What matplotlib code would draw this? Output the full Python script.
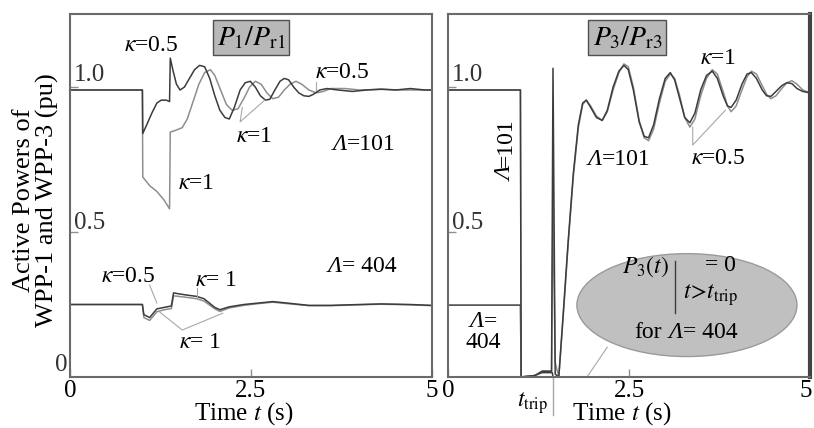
import matplotlib
matplotlib.use('Agg')
import matplotlib.pyplot as plt
from matplotlib.patches import Ellipse
from matplotlib.transforms import ScaledTranslation

plt.rcParams['font.family'] = ['Liberation Serif', 'DejaVu Serif']
plt.rcParams['mathtext.fontset'] = 'stix'

# WPP-1, Lambda = 101
t1_k05 = [0, 1.0, 1.005, 1.06, 1.13, 1.2, 1.26, 1.33, 1.375, 1.385, 1.42, 1.47, 1.52, 1.58, 1.65,
          1.72, 1.79, 1.86, 1.93, 2.0, 2.07, 2.14, 2.2, 2.27, 2.35, 2.42, 2.49, 2.56, 2.63, 2.7,
          2.76, 2.83, 2.9, 2.96, 3.02, 3.09, 3.16, 3.23, 3.3, 3.36, 3.45, 3.55, 3.7, 3.9, 4.1,
          4.3, 4.5, 4.7, 4.9, 5.0]
p1_k05 = [0.99, 0.99, 0.84, 0.87, 0.91, 0.945, 0.955, 0.955, 0.95, 1.10, 1.06, 1.01, 0.99, 1.0, 1.03,
          1.06, 1.075, 1.07, 1.03, 0.97, 0.92, 0.895, 0.89, 0.93, 0.99, 1.015, 1.02, 1.0, 0.97, 0.955,
          0.958, 0.99, 1.02, 1.03, 1.025, 1.0, 0.98, 0.97, 0.968, 0.975, 0.99, 0.995, 0.99, 0.985, 0.99,
          0.993, 0.99, 0.995, 0.99, 0.99]
t1_k1 = [0, 1.0, 1.005, 1.1, 1.2, 1.3, 1.375, 1.385, 1.45, 1.55, 1.62, 1.7, 1.78, 1.86, 1.94, 2.0,
         2.08, 2.16, 2.24, 2.32, 2.4, 2.48, 2.56, 2.64, 2.72, 2.8, 2.88, 2.96, 3.04, 3.12, 3.2,
         3.3, 3.4, 3.5, 3.6, 3.8, 4.0, 4.3, 4.6, 5.0]
p1_k1 = [0.99, 0.99, 0.69, 0.66, 0.64, 0.61, 0.58, 0.845, 0.85, 0.86, 0.89, 0.95, 1.01, 1.05, 1.06, 1.04,
         0.99, 0.94, 0.92, 0.925, 0.96, 1.0, 1.02, 1.01, 0.98, 0.96, 0.965, 0.99, 1.01, 1.02, 1.01,
         0.99, 0.98, 0.985, 0.995, 0.995, 0.99, 0.992, 0.99, 0.99]

# WPP-1, Lambda = 404
t1_404 = [0, 1.0, 1.02, 1.1, 1.2, 1.3, 1.4, 1.43, 1.5, 1.6, 1.75, 1.85, 2.0, 2.07, 2.2, 2.4, 2.6,
          2.8, 3.0, 3.3, 3.6, 4.0, 4.3, 4.7, 5.0]
p1_404_k05 = [0.25, 0.25, 0.215, 0.205, 0.235, 0.24, 0.245, 0.29, 0.287, 0.283, 0.278, 0.27, 0.24, 0.232,
              0.242, 0.25, 0.255, 0.26, 0.255, 0.247, 0.247, 0.25, 0.252, 0.25, 0.247]
p1_404_k1 = [0.25, 0.25, 0.205, 0.195, 0.225, 0.232, 0.236, 0.28, 0.278, 0.275, 0.27, 0.262, 0.235, 0.226,
             0.238, 0.247, 0.253, 0.258, 0.253, 0.246, 0.246, 0.249, 0.251, 0.249, 0.246]

# WPP-3, Lambda = 101
t3 = [0, 1.0, 1.01, 1.2, 1.3, 1.43, 1.45, 1.48, 1.53, 1.6, 1.66, 1.73, 1.8, 1.86, 1.91, 1.97, 2.05,
      2.13, 2.2, 2.28, 2.36, 2.43, 2.49, 2.56, 2.64, 2.71, 2.77, 2.84, 2.92, 3.0, 3.07, 3.13, 3.2,
      3.27, 3.34, 3.41, 3.49, 3.57, 3.65, 3.72, 3.8, 3.86, 3.91, 3.98, 4.06, 4.13, 4.19, 4.26, 4.34,
      4.4, 4.46, 4.53, 4.61, 4.68, 4.75, 4.82, 4.9, 5.0]
p3_k1 = [0.99, 0.99, 0.0, 0.005, 0.02, 0.02, 1.065, 0.01, 0.0, 0.25, 0.47, 0.7, 0.87, 0.945, 0.955, 0.93, 0.895,
         0.885, 0.92, 1.0, 1.055, 1.075, 1.06, 0.99, 0.88, 0.83, 0.825, 0.87, 0.96, 1.03, 1.05, 1.025, 0.96,
         0.895, 0.877, 0.91, 0.99, 1.04, 1.055, 1.03, 0.97, 0.935, 0.93, 0.955, 1.01, 1.045, 1.05, 1.03, 0.99,
         0.97, 0.968, 0.985, 1.005, 1.015, 1.012, 0.995, 0.985, 0.98]
p3_k05 = [0.99, 0.99, 0.0, 0.005, 0.02, 0.02, 0.6, 0.05, 0.0, 0.24, 0.46, 0.69, 0.86, 0.94, 0.955, 0.935, 0.9,
          0.885, 0.915, 0.99, 1.05, 1.08, 1.07, 1.0, 0.885, 0.825, 0.815, 0.855, 0.945, 1.02, 1.045, 1.03, 0.97,
          0.895, 0.862, 0.89, 0.97, 1.03, 1.06, 1.045, 0.985, 0.935, 0.915, 0.935, 0.99, 1.035, 1.055, 1.045, 1.005,
          0.975, 0.96, 0.97, 0.995, 1.015, 1.022, 1.01, 0.99, 0.98]

# WPP-3, Lambda = 404 (tripped)
t3_404 = [0, 1.0, 1.01, 1.2, 1.3, 1.44, 1.45, 5.0]
p3_404 = [0.248, 0.248, 0.0, 0.005, 0.015, 0.015, 0.0, 0.0]

x_ticks = [0, 2.5, 5]
x_tick_labels = ['0', '2.5', '5']
t_trip = 1.45

dark = '#3c3c3c'
light = '#8e8e8e'
lead = '#a8a8a8'
spine = '#6a6a6a'
fs = 17
tfs = 18


def lam(ax, x, y, rest, rot=0):
    # italic capital lambda followed by upright text, split at x
    ax.text(x, y, 'Λ', fontsize=fs, style='italic', ha='right', va='baseline',
            rotation=rot, rotation_mode='anchor')
    ax.text(x, y, rest, fontsize=fs, ha='left', va='baseline', rotation=rot, rotation_mode='anchor')


def kap(ax, x, y, rest):
    ax.text(x, y, r'$\kappa$' + rest, fontsize=fs, ha='center', va='center')


fig = plt.figure(figsize=(8.14, 4.28), dpi=100)
ax1 = fig.add_axes([0.086, 0.1192, 0.4447, 0.848])
ax2 = fig.add_axes([0.5504, 0.1192, 0.4447, 0.848])

for ax in (ax1, ax2):
    ax.set_xlim(0, 5)
    ax.set_ylim(0, 1.252)
    ax.set_xticks(x_ticks)
    ax.set_xticklabels(x_tick_labels)
    ax.set_yticks([0.5, 1.0])
    ax.set_yticklabels([])
    ax.tick_params(direction='in', length=6, width=1, color='#909090', labelsize=tfs, pad=2)
    for s in ax.spines.values():
        s.set_color(spine)
        s.set_linewidth(1.5)
    ax.text(0.05, 1.02, '1.0', fontsize=tfs, ha='left', va='baseline', color='#333333')
    ax.text(0.05, 0.51, '0.5', fontsize=tfs, ha='left', va='baseline', color='#333333')
    ax.text(2.4, -0.125, r'Time $t$ (s)', fontsize=tfs, ha='center', va='center')
ax2.spines['right'].set_color('#444444')
ax2.spines['right'].set_linewidth(3)
ax1.text(-0.04, 0.02, '0', fontsize=tfs, ha='right', va='baseline', color='#333333')
# keep the last "5" just inside the figure
last = ax2.get_xticklabels()[-1]
last.set_transform(last.get_transform() + ScaledTranslation(-4 / 100, 0, fig.dpi_scale_trans))

# left panel
ax1.plot(t1_k1, p1_k1, color=light, lw=1.1)
ax1.plot(t1_k05, p1_k05, color=dark, lw=1.1)
ax1.plot(t1_404, p1_404_k1, color=light, lw=1.1)
ax1.plot(t1_404, p1_404_k05, color=dark, lw=1.1)

ax1.text(0.5, 0.935, r'$P_1/P_{\mathrm{r}1}$', transform=ax1.transAxes, fontsize=20, ha='center', va='center',
         bbox=dict(boxstyle='square,pad=0.15', fc='#b8b8b8', ec='#505050', lw=1))
kap(ax1, 1.12, 1.145, '=0.5')
kap(ax1, 1.74, 0.669, '=1')
kap(ax1, 2.54, 0.828, '=1')
ax1.plot([2.38, 2.35, 2.69], [0.93, 0.88, 0.955], color=lead, lw=0.8)
kap(ax1, 3.76, 1.05, '=0.5')
ax1.plot([3.4, 3.4], [1.017, 0.99], color=lead, lw=0.8)
lam(ax1, 3.83, 0.783, '=101')

kap(ax1, 0.8, 0.345, '=0.5')
ax1.plot([1.1, 1.2], [0.317, 0.255], color=lead, lw=0.8)
kap(ax1, 2.02, 0.334, '= 1')
ax1.plot([1.75, 1.75], [0.307, 0.28], color=lead, lw=0.8)
kap(ax1, 1.8, 0.12, '= 1')
ax1.plot([1.24, 1.55, 2.11], [0.224, 0.162, 0.22], color=lead, lw=0.8)
lam(ax1, 3.76, 0.362, '= 404')

# right panel
ax2.add_patch(Ellipse((3.3, 0.248), 3.04, 0.355, fc='#c0c0c0', ec='#9a9a9a', lw=1))
ax2.plot([2.2, 1.92], [0.103, 0.0], color=lead, lw=0.8)
ax2.plot([t_trip, t_trip], [0.0, -0.13], color=lead, lw=1, clip_on=False)
ax2.plot(t3_404, p3_404, color=dark, lw=1.1)
ax2.plot(t3, p3_k05, color=light, lw=1.1)
ax2.plot(t3, p3_k1, color=dark, lw=1.1)

ax2.text(0.495, 0.935, r'$P_3/P_{\mathrm{r}3}$', transform=ax2.transAxes, fontsize=20, ha='center', va='center',
         bbox=dict(boxstyle='square,pad=0.15', fc='#b8b8b8', ec='#505050', lw=1))
lam(ax2, 0.88, 0.724, '=101', rot=90)
lam(ax2, 0.50, 0.172, '=')
ax2.text(0.48, 0.10, '404', fontsize=fs, ha='center', va='baseline')
lam(ax2, 2.13, 0.731, '=101')
kap(ax2, 3.73, 0.755, '=0.5')
ax2.plot([3.38, 3.38, 3.83], [0.862, 0.8, 0.92], color=lead, lw=0.8)
kap(ax2, 3.73, 1.1, '=1')
ax2.text(1.17, -0.09, r'$t_{\mathrm{trip}}$', fontsize=fs, ha='center', va='center')

ax2.text(2.73, 0.38, r'$P_3(t)$', fontsize=fs, ha='center', va='center')
ax2.plot([3.13, 3.13], [0.22, 0.40], color=dark, lw=1)
ax2.text(3.76, 0.386, '= 0', fontsize=fs, ha='center', va='center')
ax2.text(3.62, 0.283, r'$t\!>\!t_{\mathrm{trip}}$', fontsize=fs, ha='center', va='center')
ax2.text(2.955, 0.134, 'for', fontsize=fs, ha='right', va='baseline')
lam(ax2, 3.25, 0.134, '= 404')

fig.text(36 / 814, 1 - 200 / 428, 'Active Powers of\nWPP-1 and WPP-3 (pu)', fontsize=19, rotation=90,
         ha='center', va='center', linespacing=1.1)

fig.savefig('out.png', dpi=100)
